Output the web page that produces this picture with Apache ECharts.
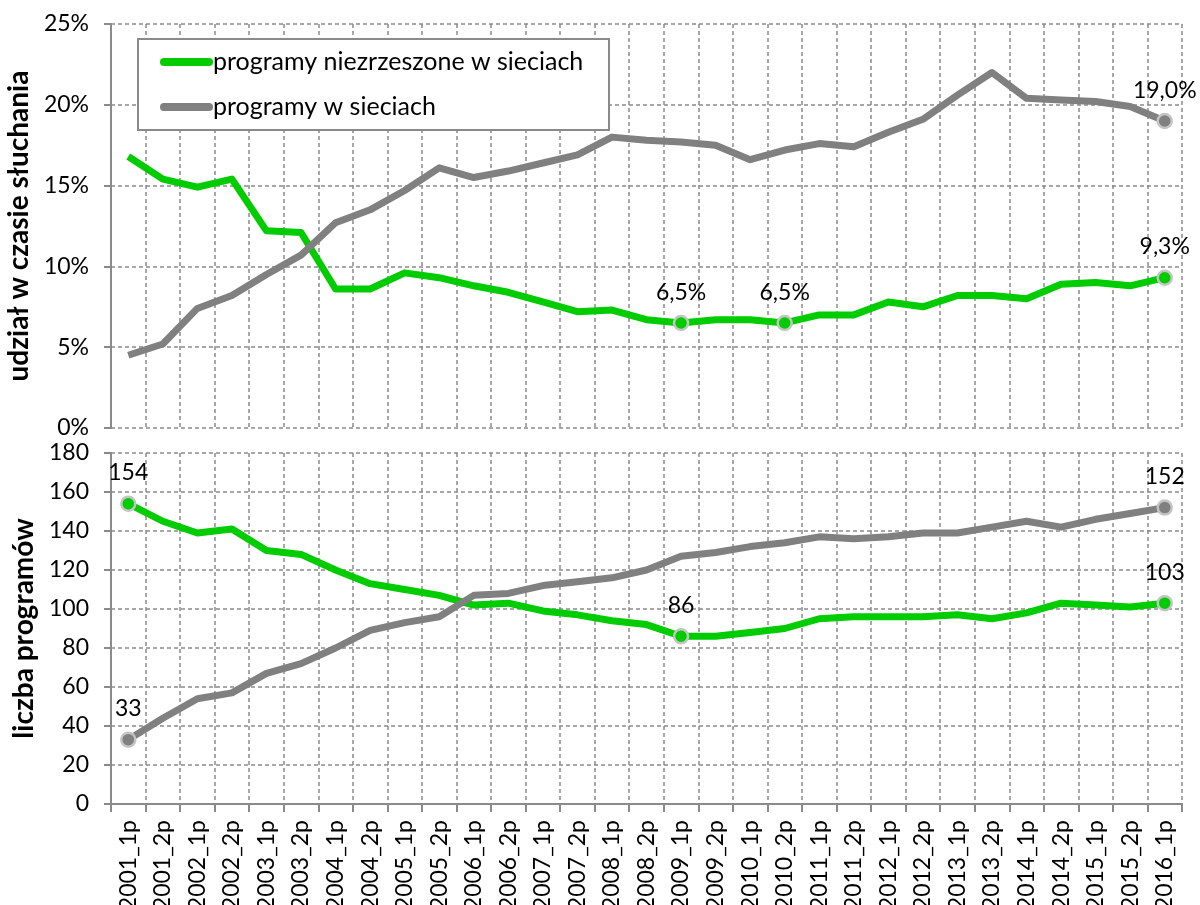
<!DOCTYPE html>
<html>
<head>
<meta charset="utf-8">
<script src="https://cdn.jsdelivr.net/npm/echarts@6/dist/echarts.min.js"></script>
<style>
html,body{margin:0;padding:0;background:#fff;}
#chart{width:1200px;height:905px;}
</style>
</head>
<body>
<div id="chart"></div>
<script>
const categories = ['2001_1p','2001_2p','2002_1p','2002_2p','2003_1p','2003_2p','2004_1p','2004_2p','2005_1p','2005_2p','2006_1p','2006_2p','2007_1p','2007_2p','2008_1p','2008_2p','2009_1p','2009_2p','2010_1p','2010_2p','2011_1p','2011_2p','2012_1p','2012_2p','2013_1p','2013_2p','2014_1p','2014_2p','2015_1p','2015_2p','2016_1p'];
const seriesNames = ['programy niezrzeszone w sieciach', 'programy w sieciach'];
const shareIndependent = [16.8,15.4,14.9,15.4,12.2,12.1,8.6,8.6,9.6,9.3,8.8,8.4,7.8,7.2,7.3,6.7,6.5,6.7,6.7,6.5,7.0,7.0,7.8,7.5,8.2,8.2,8.0,8.9,9.0,8.8,9.3];
const shareNetwork = [4.5,5.2,7.4,8.2,9.5,10.7,12.7,13.5,14.7,16.1,15.5,15.9,16.4,16.9,18.0,17.8,17.7,17.5,16.6,17.2,17.6,17.4,18.3,19.1,20.6,22.0,20.4,20.3,20.2,19.9,19.0];
const countIndependent = [154,145,139,141,130,128,120,113,110,107,102,103,99,97,94,92,86,86,88,90,95,96,96,96,97,95,98,103,102,101,103];
const countNetwork = [33,44,54,57,67,72,80,89,93,96,107,108,112,114,116,120,127,129,132,134,137,136,137,139,139,142,145,142,146,149,152];
const markedShareIndependent = [16, 19, 30];
const markedShareNetwork = [30];
const markedCountIndependent = [0, 16, 30];
const markedCountNetwork = [0, 30];
const shareTicks = [0, 5, 10, 15, 20, 25];
const countTicks = [0, 20, 40, 60, 80, 100, 120, 140, 160, 180];

const GREEN = '#00cc00';
const GRAY = '#808080';
const FONT = 'Lato';
const GRID_COLOR = '#8a8a8a';

function buildData(values, marked, color) {
  return values.map((v, i) => marked.indexOf(i) >= 0 ? {
    value: v,
    symbol: 'circle',
    symbolSize: 14,
    itemStyle: { color: color, borderColor: '#c4c4c4', borderWidth: 2.5 },
    label: { show: true }
  } : { value: v, symbol: 'none' });
}

function pctFmt(v) { return v.toFixed(1).replace('.', ',') + '%'; }

function mkSeries(name, values, marked, color, axisIdx, fmt) {
  return {
    name: name,
    type: 'line',
    xAxisIndex: axisIdx,
    yAxisIndex: axisIdx,
    data: buildData(values, marked, color),
    symbol: 'none',
    showSymbol: true,
    color: color,
    lineStyle: { color: color, width: 7, join: 'round' },
    itemStyle: { color: color },
    label: {
      show: false,
      position: 'top',
      distance: 11,
      color: '#000',
      fontFamily: FONT,
      fontSize: 23,
      formatter: p => fmt(p.value)
    },
    emphasis: { disabled: true },
    animation: false,
    z: 3
  };
}

const dash = [4, 3];
function xAxisCfg(idx, showLabels) {
  return {
    type: 'category',
    gridIndex: idx,
    data: categories,
    boundaryGap: true,
    axisLine: { show: showLabels, lineStyle: { color: GRID_COLOR, width: 2 } },
    axisTick: { show: showLabels, length: 8, interval: 0, lineStyle: { color: GRID_COLOR, width: 2 } },
    axisLabel: {
      show: showLabels, interval: 0, rotate: 90, margin: 16,
      color: '#000', fontFamily: FONT, fontSize: 23
    },
    splitLine: { show: true, interval: 0, lineStyle: { color: GRID_COLOR, type: dash, width: 1.5 } }
  };
}
function yAxisCfg(idx, ticks, name, fmt) {
  return {
    type: 'value',
    gridIndex: idx,
    min: ticks[0],
    max: ticks[ticks.length - 1],
    interval: ticks[1] - ticks[0],
    name: name,
    nameLocation: 'middle',
    nameGap: 58,
    nameTextStyle: { fontFamily: FONT, fontWeight: 'bold', fontSize: 28, color: '#000' },
    axisLine: { show: true, lineStyle: { color: GRID_COLOR, width: 2 } },
    axisTick: { show: true, length: 7, lineStyle: { color: GRID_COLOR, width: 2 } },
    axisLabel: { margin: 22, color: '#000', fontFamily: FONT, fontSize: 23, formatter: fmt },
    splitLine: { show: true, lineStyle: { color: GRID_COLOR, type: dash, width: 1.5 } }
  };
}

const chart = echarts.init(document.getElementById('chart'), null, { renderer: 'canvas' });
chart.setOption({
  backgroundColor: '#fff',
  animation: false,
  textStyle: { fontFamily: FONT },
  grid: [
    { left: 111, right: 18, top: 24, height: 404, containLabel: false, outerBoundsMode: 'none' },
    { left: 111, right: 18, top: 453, height: 351, containLabel: false, outerBoundsMode: 'none' }
  ],
  xAxis: [xAxisCfg(0, false), xAxisCfg(1, true)],
  yAxis: [
    yAxisCfg(0, shareTicks, 'udział w czasie słuchania', v => v + '%'),
    yAxisCfg(1, countTicks, 'liczba programów', v => String(v))
  ],
  graphic: [{
    type: 'rect',
    left: 137, top: 38, z: 50,
    shape: { width: 471, height: 91 },
    style: { fill: '#fff', stroke: '#8a8a8a', lineWidth: 2 }
  }],
  legend: {
    orient: 'vertical',
    left: 160, top: 47,
    padding: 0,
    z: 60,
    itemWidth: 53, itemHeight: 8,
    itemGap: 15,
    icon: 'path://M4,0 H49 A4,4 0 0 1 49,8 H4 A4,4 0 0 1 4,0 Z',
    itemStyle: { borderWidth: 0 },
    textStyle: { fontFamily: FONT, fontSize: 25, color: '#000', lineHeight: 30, padding: [0, 0, 0, -5] },
    data: seriesNames,
    selectedMode: false
  },
  series: [
    mkSeries(seriesNames[0], shareIndependent, markedShareIndependent, GREEN, 0, pctFmt),
    mkSeries(seriesNames[1], shareNetwork, markedShareNetwork, GRAY, 0, pctFmt),
    mkSeries(seriesNames[0], countIndependent, markedCountIndependent, GREEN, 1, v => String(v)),
    mkSeries(seriesNames[1], countNetwork, markedCountNetwork, GRAY, 1, v => String(v))
  ]
});
</script>
</body>
</html>
